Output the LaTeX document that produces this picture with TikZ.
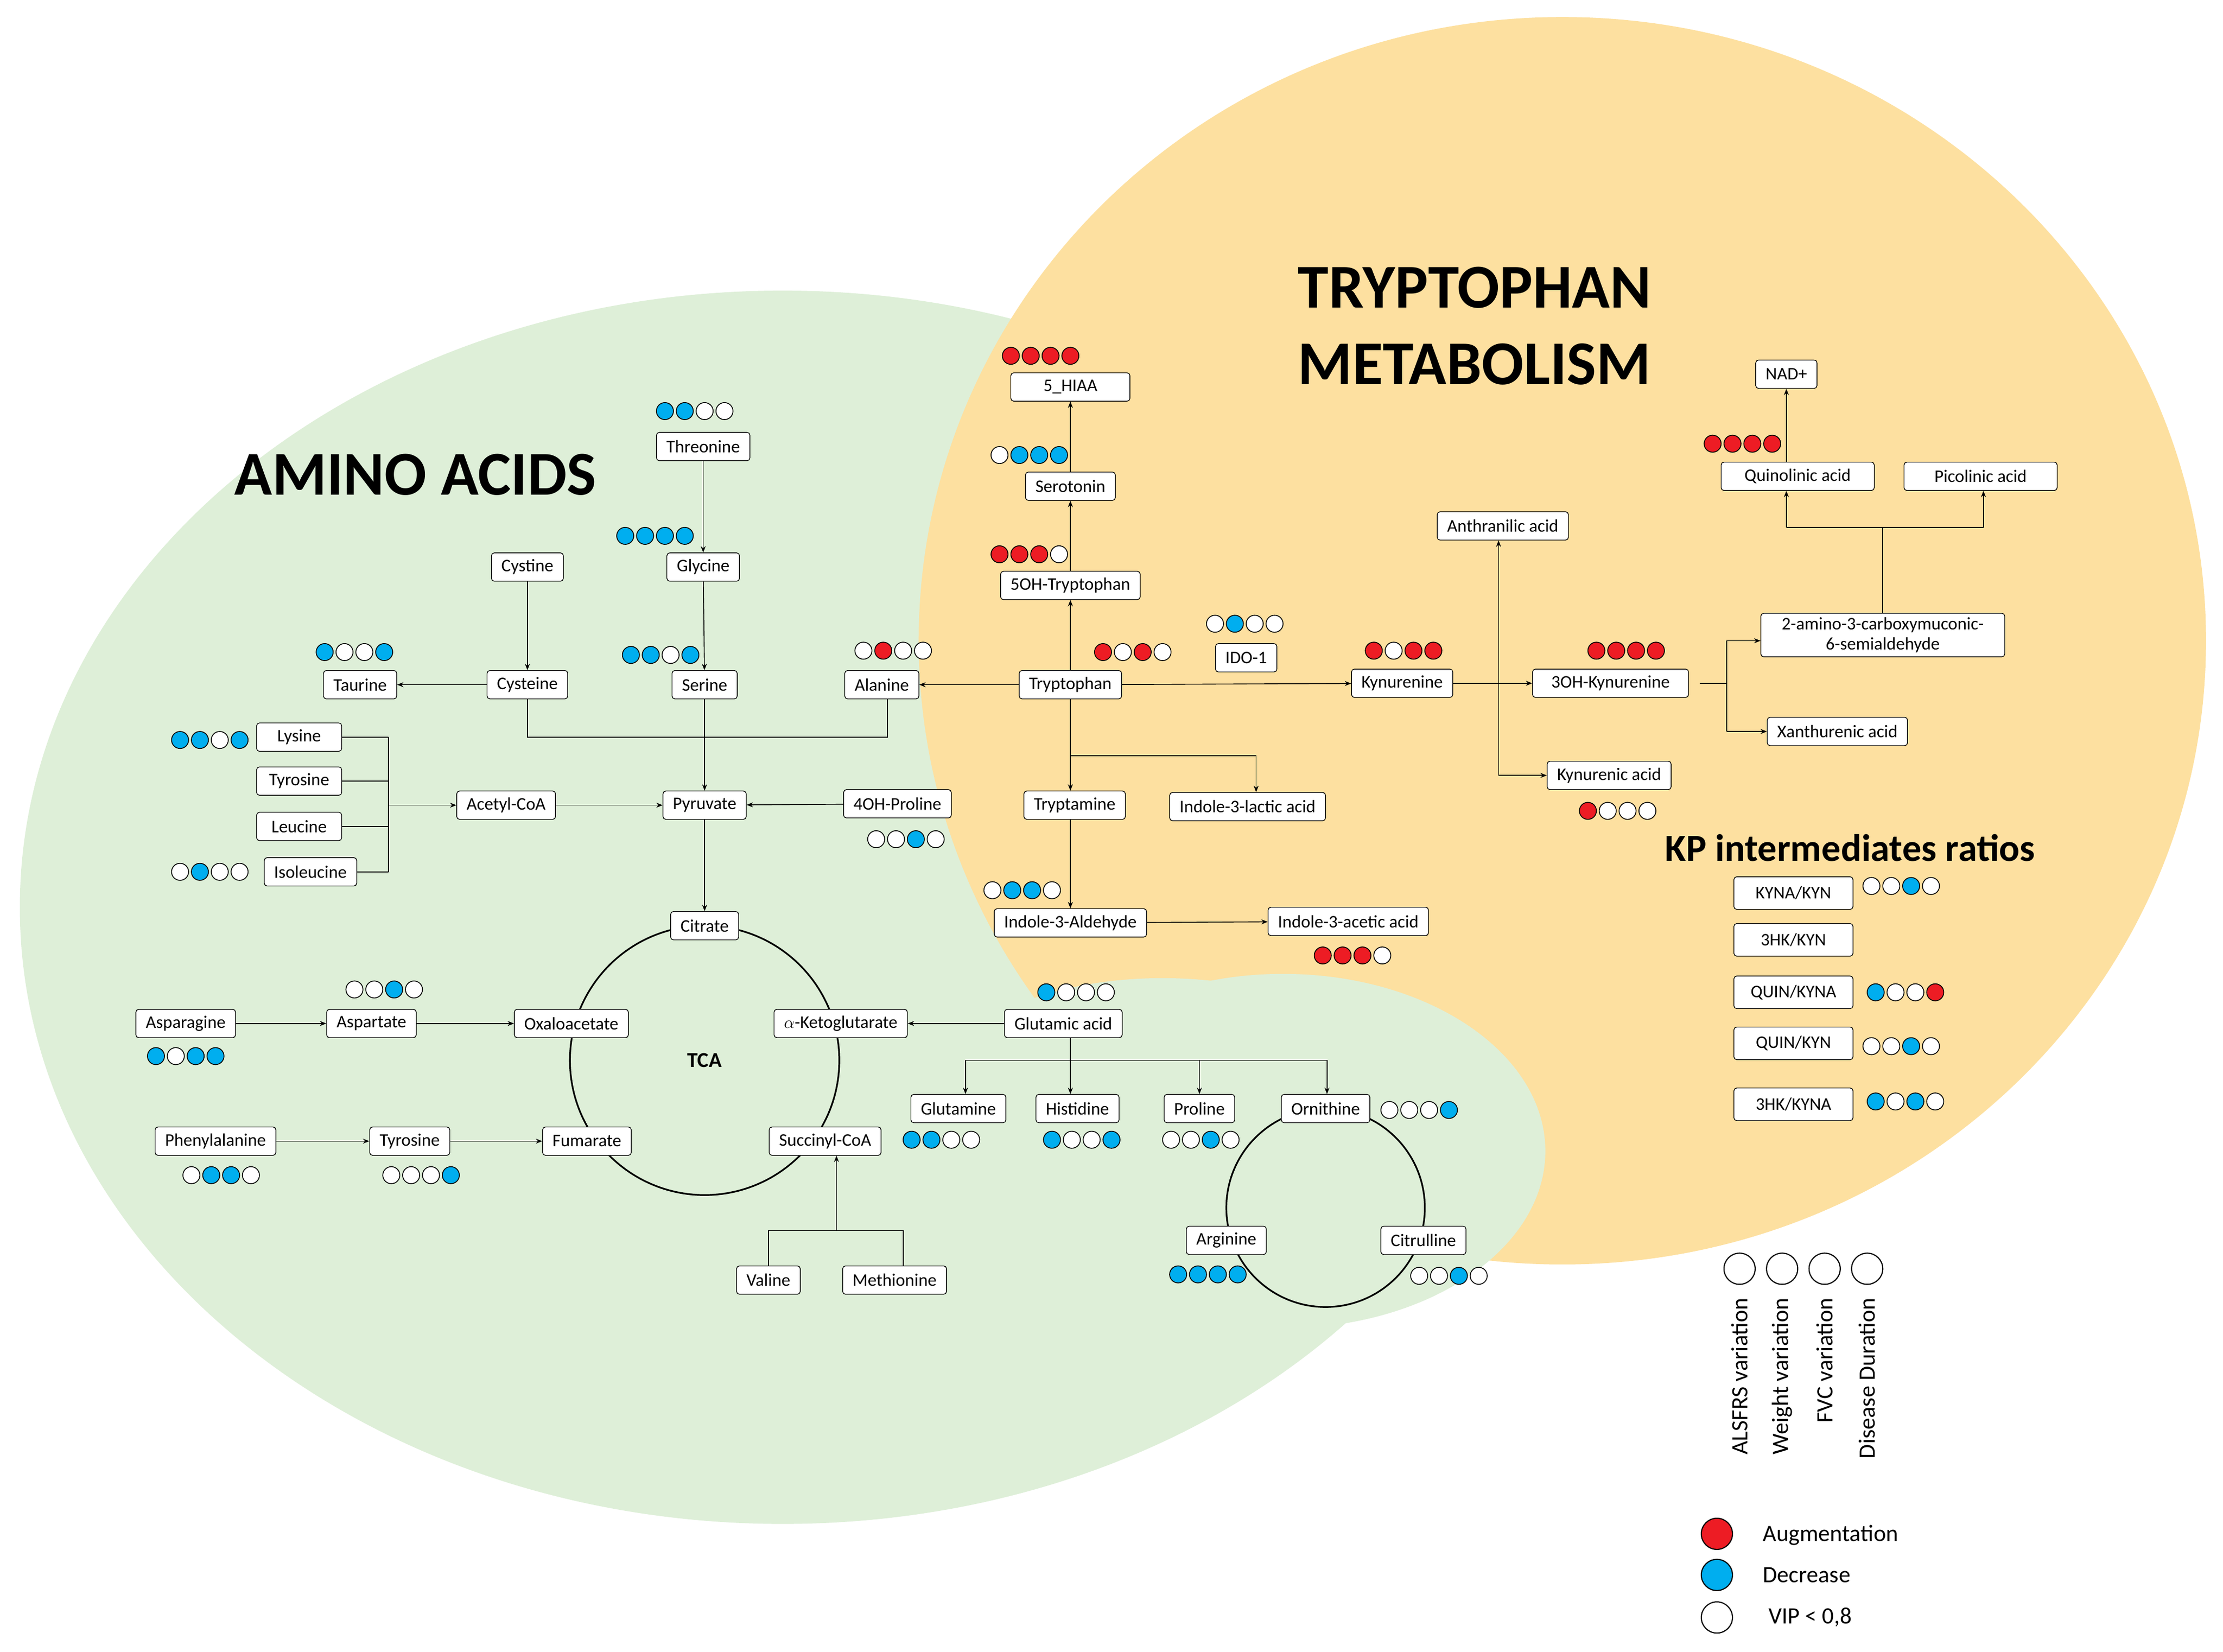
\documentclass[tikz,border=0pt]{standalone}
\usepackage{fontspec}
\setmainfont{Carlito}
\usetikzlibrary{arrows.meta}
\definecolor{gr}{RGB}{222,239,216}
\definecolor{orn}{RGB}{253,224,160}
\definecolor{rd}{RGB}{237,28,36}
\definecolor{bl}{RGB}{0,174,239}
\definecolor{wh}{RGB}{255,255,255}
\newcommand\dr[6]{\foreach \c [count=\i] in {#3,#4,#5,#6}{\draw[fill=\c,line width=0.6pt] (#1-35+14*\i,#2) circle (6);}}
\tikzset{
 box/.style={draw,rounded corners=2pt,fill=white,font=\fontsize{12.5}{14}\selectfont,inner xsep=7pt,inner ysep=3pt,minimum height=20pt,line width=0.5pt},
 ar/.style={-{Stealth[length=4.5pt,width=3.5pt]},line width=0.6pt},
 ln/.style={line width=0.6pt},
 ttl/.style={font=\fontsize{44}{48}\selectfont\bfseries}
}
\begin{document}
\begin{tikzpicture}[x=1pt,y=-1pt]
\useasboundingbox (0,0) rectangle (1568,1165);
\fill[white] (0,0) rectangle (1568,1165);
% backgrounds
\fill[gr] (552,640) ellipse (538 and 435);
\fill[orn] (1102,452) ellipse (454 and 440);
\fill[gr] (905,812) ellipse (185 and 125);
\fill[gr] (820,760) ellipse (150 and 70);
% titles
\node[ttl] at (293,335) {AMINO ACIDS};
\node[ttl] at (1040,203) {TRYPTOPHAN};
\node[ttl] at (1040,257) {METABOLISM};
\node[font=\fontsize{27}{30}\selectfont\bfseries] at (1305,598) {KP intermediates ratios};
% TCA circles
\draw[line width=1.2pt] (497,748) circle (95);
\node[font=\fontsize{15}{17}\selectfont\bfseries] at (497,748) {TCA};
\draw[line width=1.2pt] (935,852) circle (70);
% nodes
\node[box] (thr) at (496,315) {Threonine};
\node[box] (gly) at (496,400) {Glycine};
\node[box] (cyst) at (372,400) {Cystine};
\node[box] (cys) at (372,483) {Cysteine};
\node[box] (tau) at (254,483) {Taurine};
\node[box] (ser) at (497,483) {Serine};
\node[box] (ala) at (622,483) {Alanine};
\node[box] (trp) at (755,483) {Tryptophan};
\node[box,minimum width=60pt] (lys) at (211,520) {Lysine};
\node[box,minimum width=60pt] (tyr) at (211,551) {Tyrosine};
\node[box,minimum width=60pt] (leu) at (211,583) {Leucine};
\node[box] (ile) at (219,615) {Isoleucine};
\node[box] (aco) at (357,568) {Acetyl-CoA};
\node[box] (pyr) at (497,568) {Pyruvate};
\node[box] (ohp) at (633,567) {4OH-Proline};
\node[box] (cit) at (497,653) {Citrate};
\node[box] (oxa) at (403,722) {Oxaloacetate};
\node[box] (akg) at (593,722) {$\alpha$-Ketoglutarate};
\node[box] (asp) at (262,722) {Aspartate};
\node[box] (asn) at (131,722) {Asparagine};
\node[box] (glu) at (750,722) {Glutamic acid};
\node[box] (phe) at (152,805) {Phenylalanine};
\node[box] (tyr2) at (289,805) {Tyrosine};
\node[box] (fum) at (414,805) {Fumarate};
\node[box] (suc) at (582,805) {Succinyl-CoA};
\node[box] (val) at (542,903) {Valine};
\node[box] (met) at (631,903) {Methionine};
\node[box] (gln) at (676,782) {Glutamine};
\node[box] (his) at (760,782) {Histidine};
\node[box] (pro) at (846,782) {Proline};
\node[box] (orn) at (935,782) {Ornithine};
\node[box] (arg) at (865,875) {Arginine};
\node[box] (citr) at (1004,875) {Citrulline};
\node[box,minimum width=84pt] (hiaa) at (755,273) {5\_HIAA};
\node[box] (sero) at (755,343) {Serotonin};
\node[box] (oht) at (755,413) {5OH-Tryptophan};
\node[box] (ido) at (879,464) {IDO-1};
\node[box] (kyn) at (989,482) {Kynurenine};
\node[box,minimum width=110pt] (hk) at (1136,482) {3OH-Kynurenine};
\node[box] (ant) at (1060,371) {Anthranilic acid};
\node[box] (kyna) at (1135,547) {Kynurenic acid};
\node[box] (nad) at (1260,264) {NAD+};
\node[box,minimum width=108pt] (quin) at (1268,336) {Quinolinic acid};
\node[box,minimum width=108pt] (pic) at (1397,336) {Picolinic acid};
\node[box,align=center,minimum width=172pt] (amc) at (1328,448) {2-amino-3-carboxymuconic-\\6-semialdehyde};
\node[box] (xan) at (1296,516) {Xanthurenic acid};
\node[box] (tam) at (758,568) {Tryptamine};
\node[box] (ila) at (880,569) {Indole-3-lactic acid};
\node[box] (iald) at (755,651) {Indole-3-Aldehyde};
\node[box] (iaa) at (951,650) {Indole-3-acetic acid};
\foreach \n/\t/\y in {r1/KYNA\slash KYN/630,r2/3HK\slash KYN/663,r3/QUIN\slash KYNA/700,r4/QUIN\slash KYN/736,r5/3HK\slash KYNA/779}
  \node[box,minimum width=84pt,minimum height=23pt] (\n) at (1265,\y) {\t};
% edges amino
\draw[ar] (thr) -- (gly);
\draw[ar] (gly) -- (ser);
\draw[ar] (cyst) -- (cys);
\draw[ar] (cys) -- (tau);
\draw[ar] (ser) -- (pyr);
\coordinate (j1) at (372,520); \coordinate (j2) at (626,520);
\draw[ln] (cys) -- (j1) -- (j2) -- (ala.south -| j2);
\draw[ar] (trp) -- (ala);
\coordinate (b1) at (274,520); \coordinate (b2) at (274,615); \coordinate (b3) at (274,568);
\draw[ln] (lys.east) -- (lys.east -| b1);
\draw[ln] (tyr.east) -- (tyr.east -| b1);
\draw[ln] (leu.east) -- (leu.east -| b1);
\draw[ln] (ile.east) -- (ile.east -| b1);
\draw[ln] (b1) -- (b2);
\draw[ar] (b3) -- (aco);
\draw[ar] (aco) -- (pyr);
\draw[ar] (ohp) -- (pyr);
\draw[ar] (pyr) -- (cit);
\draw[ar] (asn) -- (asp);
\draw[ar] (asp) -- (oxa);
\draw[ar] (phe) -- (tyr2);
\draw[ar] (tyr2) -- (fum);
\draw[ar] (glu) -- (akg);
\coordinate (v1) at (542,868); \coordinate (v2) at (637,868); \coordinate (v3) at (590,868);
\draw[ln] (val) -- (v1) -- (v2) -- (met.north -| v2);
\draw[ar] (v3) -- (suc.south -| v3);
\coordinate (g1) at (681,748); \coordinate (g2) at (936,748);
\draw[ln] (glu.south -| 755,0) -- (755,748);
\draw[ln] (g1) -- (g2);
\draw[ar] (g1) -- (gln.north -| g1);
\draw[ar] (755,748) -- (his.north -| 755,0);
\draw[ar] (846,748) -- (pro.north);
\draw[ar] (g2) -- (orn.north -| g2);
% edges trp
\draw[ar] (trp) -- (oht);
\draw[ar] (oht) -- (sero);
\draw[ar] (sero) -- (hiaa);
\draw[ar] (trp) -- (kyn);
\draw[ar] (kyn) -- (hk);
\coordinate (k1) at (1057,482); \coordinate (k2) at (1057,547);
\draw[ar] (k1) -- (ant.south -| k1);
\draw[ln] (k1) -- (k2);
\draw[ar] (k2) -- (kyna);
\coordinate (h1) at (1218,482); \coordinate (h2) at (1218,452); \coordinate (h3) at (1218,516);
\draw[ln] (hk.east -| 1199,0) -- (h1);
\draw[ln] (h2) -- (h3);
\draw[ar] (h2) -- (amc.west |- h2);
\draw[ar] (h3) -- (xan);
\coordinate (a1) at (1328,372); \coordinate (a2) at (1260,372); \coordinate (a3) at (1399,372);
\draw[ln] (amc) -- (a1);
\draw[ln] (a2) -- (a3);
\draw[ar] (a2) -- (quin.south -| a2);
\draw[ar] (a3) -- (pic.south -| a3);
\draw[ar] (quin.north -| nad) -- (nad);
\coordinate (t1) at (755,533); \coordinate (t2) at (886,533);
\draw[ln] (trp) -- (t1) -- (t2);
\draw[ar] (t2) -- (ila.north -| t2);
\draw[ar] (t1) -- (tam.north -| t1);
\draw[ar] (tam.south -| 755,0) -- (iald);
\draw[ar] (iald) -- (iaa);
% dots
\dr{734}{251}{rd}{rd}{rd}{rd}
\dr{726}{321}{wh}{bl}{bl}{bl}
\dr{726}{391}{rd}{rd}{rd}{wh}
\dr{799}{460}{rd}{wh}{rd}{wh}
\dr{878}{440}{wh}{bl}{wh}{wh}
\dr{990}{459}{rd}{wh}{rd}{rd}
\dr{1147}{459}{rd}{rd}{rd}{rd}
\dr{1229}{313}{rd}{rd}{rd}{rd}
\dr{1141}{572}{rd}{wh}{wh}{wh}
\dr{721}{628}{wh}{bl}{bl}{wh}
\dr{954}{674}{rd}{rd}{rd}{wh}
\dr{490}{290}{bl}{bl}{wh}{wh}
\dr{462}{378}{bl}{bl}{bl}{bl}
\dr{466}{462}{bl}{bl}{wh}{bl}
\dr{250}{460}{bl}{wh}{wh}{bl}
\dr{630}{459}{wh}{rd}{wh}{wh}
\dr{148}{522}{bl}{bl}{wh}{bl}
\dr{148}{615}{wh}{bl}{wh}{wh}
\dr{639}{592}{wh}{wh}{bl}{wh}
\dr{271}{698}{wh}{wh}{bl}{wh}
\dr{131}{745}{bl}{wh}{bl}{bl}
\dr{156}{829}{wh}{bl}{bl}{wh}
\dr{297}{829}{wh}{wh}{wh}{bl}
\dr{759}{700}{bl}{wh}{wh}{wh}
\dr{664}{804}{bl}{bl}{wh}{wh}
\dr{763}{804}{bl}{wh}{wh}{bl}
\dr{847}{804}{wh}{wh}{bl}{wh}
\dr{1001}{783}{wh}{wh}{wh}{bl}
\dr{852}{899}{bl}{bl}{bl}{bl}
\dr{1022}{900}{wh}{wh}{bl}{wh}
\dr{1341}{625}{wh}{wh}{bl}{wh}
\dr{1344}{700}{bl}{wh}{wh}{rd}
\dr{1341}{738}{wh}{wh}{bl}{wh}
\dr{1344}{777}{bl}{wh}{bl}{wh}
% legend
\foreach \x/\t in {1227/ALSFRS variation,1257/Weight variation,1287/FVC variation,1317/Disease Duration}{
  \draw[fill=white,line width=0.8pt] (\x,895) circle (11);
  \node[rotate=90,anchor=east,font=\fontsize{16.5}{18}\selectfont] at (\x,912) {\t};}
\draw[fill=rd,line width=0.8pt] (1211,1082) circle (11);
\draw[fill=bl,line width=0.8pt] (1211,1111) circle (11);
\draw[fill=white,line width=0.8pt] (1211,1141) circle (11);
\node[anchor=west,font=\fontsize{16.5}{18}\selectfont] at (1240,1083) {Augmentation};
\node[anchor=west,font=\fontsize{16.5}{18}\selectfont] at (1240,1111) {Decrease};
\node[anchor=west,font=\fontsize{16.5}{18}\selectfont] at (1244,1141) {VIP < 0,8};
\end{tikzpicture}
\end{document}
